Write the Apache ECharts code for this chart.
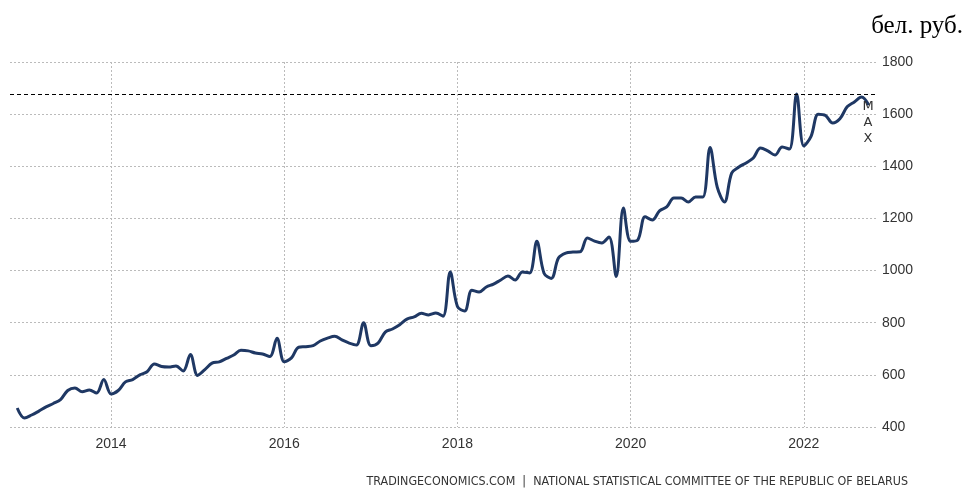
<!DOCTYPE html>
<html>
<head>
<meta charset="utf-8">
<script src="https://cdn.jsdelivr.net/npm/echarts@6/dist/echarts.min.js"></script>
<style>
  html, body { margin: 0; padding: 0; background: #fff; }
  #chart { width: 968px; height: 491px; }
</style>
</head>
<body>
<div id="chart"></div>
<script>
// monthly average wage, Dec 2012 .. Oct 2022
const startYear = 2012, startMonth = 12;
const wages = [
  473,
  435, 446, 461, 477, 490, 505, 540, 550, 535, 542, 530, 582,
  527, 540, 573, 582, 600, 612, 642, 632, 630, 634, 615, 678,
  598, 620, 645, 650, 663, 676, 694, 692, 684, 680, 670, 740,
  650, 665, 706, 708, 712, 730, 741, 748, 734, 722, 715, 800,
  712, 722, 764, 776, 792, 814, 822, 836, 830, 837, 825, 995,
  862, 845, 925, 918, 937, 948, 964, 979, 964, 995, 991, 1112,
  990, 970, 1048, 1067, 1071, 1072, 1125, 1113, 1106, 1129, 977, 1240,
  1112, 1118, 1206, 1194, 1229, 1244, 1278, 1278, 1263, 1282, 1282, 1472,
  1320, 1263, 1374, 1397, 1413, 1432, 1470, 1459, 1443, 1474, 1466, 1677,
  1478, 1515, 1600, 1595, 1566, 1582, 1628, 1647, 1666, 1635
];
const yearLabels = ['2014', '2016', '2018', '2020', '2022'];
const yMin = 400, yMax = 1800, yStep = 200;

// categories: one empty month of padding on each side
let months = [];
let y = startYear, m = startMonth - 1;
for (let i = 0; i < wages.length + 2; i++) {
    if (m < 1) { m += 12; y -= 1; }
    if (m > 12) { m -= 12; y += 1; }
    months.push(y + '-' + (m < 10 ? '0' + m : m));
    m++;
}
let seriesData = [null].concat(wages, [null]);

const isTick = (idx) => {
    let c = months[idx];
    return c.slice(5) === '01' && yearLabels.indexOf(c.slice(0, 4)) >= 0;
};

var myChart = echarts.init(document.getElementById('chart'));
let options = {
    animation: false,
    title: {
        text: 'бел. руб.',
        right: 0,
        top: 9,
        textStyle: { fontFamily: 'Liberation Serif', fontSize: 25, fontWeight: 'normal', color: '#000' }
    },
    graphic: [{
        type: 'text',
        right: 60,
        bottom: 3,
        style: {
            text: 'TRADINGECONOMICS.COM  |  NATIONAL STATISTICAL COMMITTEE OF THE REPUBLIC OF BELARUS',
            font: '12.4px "DejaVu Sans Condensed", "Liberation Sans"',
            fill: '#333'
        }
    }],
    grid: { left: 10, right: 92, top: 62, bottom: 64 },
    xAxis: {
        type: 'category',
        data: months,
        boundaryGap: false,
        axisLine: { show: false },
        axisTick: { show: false },
        axisLabel: {
            interval: (idx) => isTick(idx),
            formatter: (v) => v.slice(0, 4),
            fontFamily: 'Liberation Sans',
            fontSize: 14,
            color: '#333',
            margin: 10
        },
        splitLine: {
            show: true,
            interval: (idx) => isTick(idx),
            lineStyle: { color: '#bbb', type: [2, 2], width: 1 }
        }
    },
    yAxis: {
        type: 'value',
        position: 'right',
        min: yMin,
        max: yMax,
        interval: yStep,
        axisLine: { show: false },
        axisTick: { show: false },
        axisLabel: {
            formatter: (v) => String(v),
            fontFamily: 'Liberation Sans', fontSize: 14, color: '#333', margin: 6
        },
        splitLine: { lineStyle: { color: '#bbb', type: [2, 2], width: 1 } }
    },
    series: [{
        type: 'line',
        data: seriesData,
        smooth: 0.35,
        symbol: 'none',
        connectNulls: false,
        lineStyle: { color: '#1f3864', width: 3 },
        markLine: {
            silent: true,
            symbol: 'none',
            data: [{ type: 'max' }],
            lineStyle: { color: '#000', type: [4, 3], width: 1 },
            label: {
                position: 'insideEndBottom',
                formatter: 'M\nA\nX',
                fontFamily: 'DejaVu Sans',
                fontSize: 13,
                lineHeight: 16,
                color: '#333',
                distance: [8, 5],
                align: 'center'
            }
        }
    }]
};
myChart.setOption(options, true);
</script>
</body>
</html>
